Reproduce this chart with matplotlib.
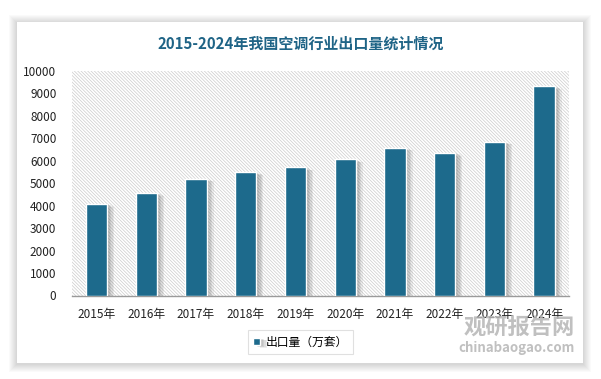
import matplotlib
matplotlib.use("Agg")
import matplotlib.pyplot as plt
import matplotlib.patheffects as pe
from matplotlib.patches import Rectangle, Wedge
import numpy as np

plt.rcParams['font.family'] = ['Noto Sans CJK SC', 'DejaVu Sans']
plt.rcParams['hatch.linewidth'] = 0.5

years = ['2015年', '2016年', '2017年', '2018年', '2019年',
         '2020年', '2021年', '2022年', '2023年', '2024年']
export_vol = [4080, 4570, 5200, 5500, 5700, 6050, 6580, 6350, 6850, 9320]
yticks = [0, 1000, 2000, 3000, 4000, 5000, 6000, 7000, 8000, 9000, 10000]

title = '2015-2024年我国空调行业出口量统计情况'
series_name = '出口量（万套）'
bar_color = '#1d6a8c'
title_color = '#1f6486'

W, H = 601, 379
fig = plt.figure(figsize=(W / 100, H / 100), dpi=100)
fig.patch.set_facecolor('white')

# card with soft shadow
cx0, cy0, cx1, cy1 = 17, 22, 583, 363
for i in range(8, 0, -1):
    fig.patches.append(Rectangle(((cx0 - i) / W, 1 - (cy1 + i + 1) / H),
                                 (cx1 - cx0 + 2 * i) / W, (cy1 - cy0 + 2 * i) / H,
                                 transform=fig.transFigure, facecolor='#000000',
                                 alpha=0.018, edgecolor='none', zorder=0))
fig.patches.append(Rectangle((cx0 / W, 1 - cy1 / H), (cx1 - cx0) / W, (cy1 - cy0) / H,
                             transform=fig.transFigure, facecolor='white',
                             edgecolor='none', zorder=0.5))

ax = fig.add_axes([71.7 / W, 1 - 295.5 / H, (569 - 71.7) / W, (295.5 - 70.7) / H])
ax.set_facecolor('none')
ax.set_zorder(1)

# hatched plot area
ax.add_patch(Rectangle((0, 0), 1, 1, transform=ax.transAxes, facecolor='white',
                       edgecolor='#cccccc', linewidth=0, hatch='\\' * 10, zorder=0))

x = np.arange(len(years))
bars = ax.bar(x, export_vol, width=0.43, color=bar_color, edgecolor='white',
              linewidth=1.0, zorder=3, label=series_name)
shadows = [pe.SimplePatchShadow(offset=(o, -o * 0.4), shadow_rgbFace='#444444', alpha=0.09)
           for o in (5, 4, 3, 2, 1)]
for b in bars:
    b.set_path_effects(shadows + [pe.Normal()])

ax.set_xlim(-0.5, len(years) - 0.5)
ax.set_ylim(0, 10000)
ax.set_yticks(yticks)
ax.set_xticks(x)
ax.set_xticklabels(years)
ax.tick_params(axis='y', length=0, pad=11, labelsize=8.5, colors='#222222')
ax.tick_params(axis='x', length=0, pad=9, labelsize=8.5, colors='#222222')
for s in ['top', 'right', 'left']:
    ax.spines[s].set_visible(False)
ax.spines['bottom'].set_color('#9a9a9a')
ax.spines['bottom'].set_linewidth(1.0)

fig.text(300.5 / W, 1 - 43.5 / H, title, ha='center', va='center',
         fontsize=10.8, fontweight='bold', color=title_color)

leg = fig.legend(handles=[bars], labels=[series_name], loc='center',
                 bbox_to_anchor=(300.5 / W, 1 - 342 / H), frameon=True,
                 fontsize=8.5, handlelength=0.6, handleheight=0.6,
                 handletextpad=0.5, borderpad=0.45, fancybox=False)
leg.get_frame().set_edgecolor('#d9d9d9')
leg.get_frame().set_linewidth(0.8)
leg.set_zorder(5)

# watermark
wm = '#b5b5b5'
fig.text(519 / W, 1 - 328 / H, '观研报告网', ha='center', va='center',
         fontsize=16, fontweight='bold', color=wm, alpha=0.85, zorder=6)
fig.text(517 / W, 1 - 348 / H, 'chinabaogao.com', ha='center', va='center',
         fontsize=9.5, fontweight='bold', color=wm, alpha=0.85, zorder=6)
lax = fig.add_axes([410 / W, 1 - 352 / H, 48 / W, 36 / H])
lax.set_xlim(-1.3, 1.3)
lax.set_ylim(-1, 1)
lax.axis('off')
lax.add_patch(Wedge((0, 0), 0.95, 30, 200, width=0.35, facecolor='#c4c4c4', alpha=0.9))
lax.add_patch(Wedge((0, 0), 0.95, 210, 20, width=0.35, facecolor='#d6d6d6', alpha=0.9))
lax.add_patch(Wedge((0, 0), 0.45, 0, 360, width=0.2, facecolor='#c4c4c4', alpha=0.9))

fig.savefig('out.png', dpi=100, facecolor='white')
